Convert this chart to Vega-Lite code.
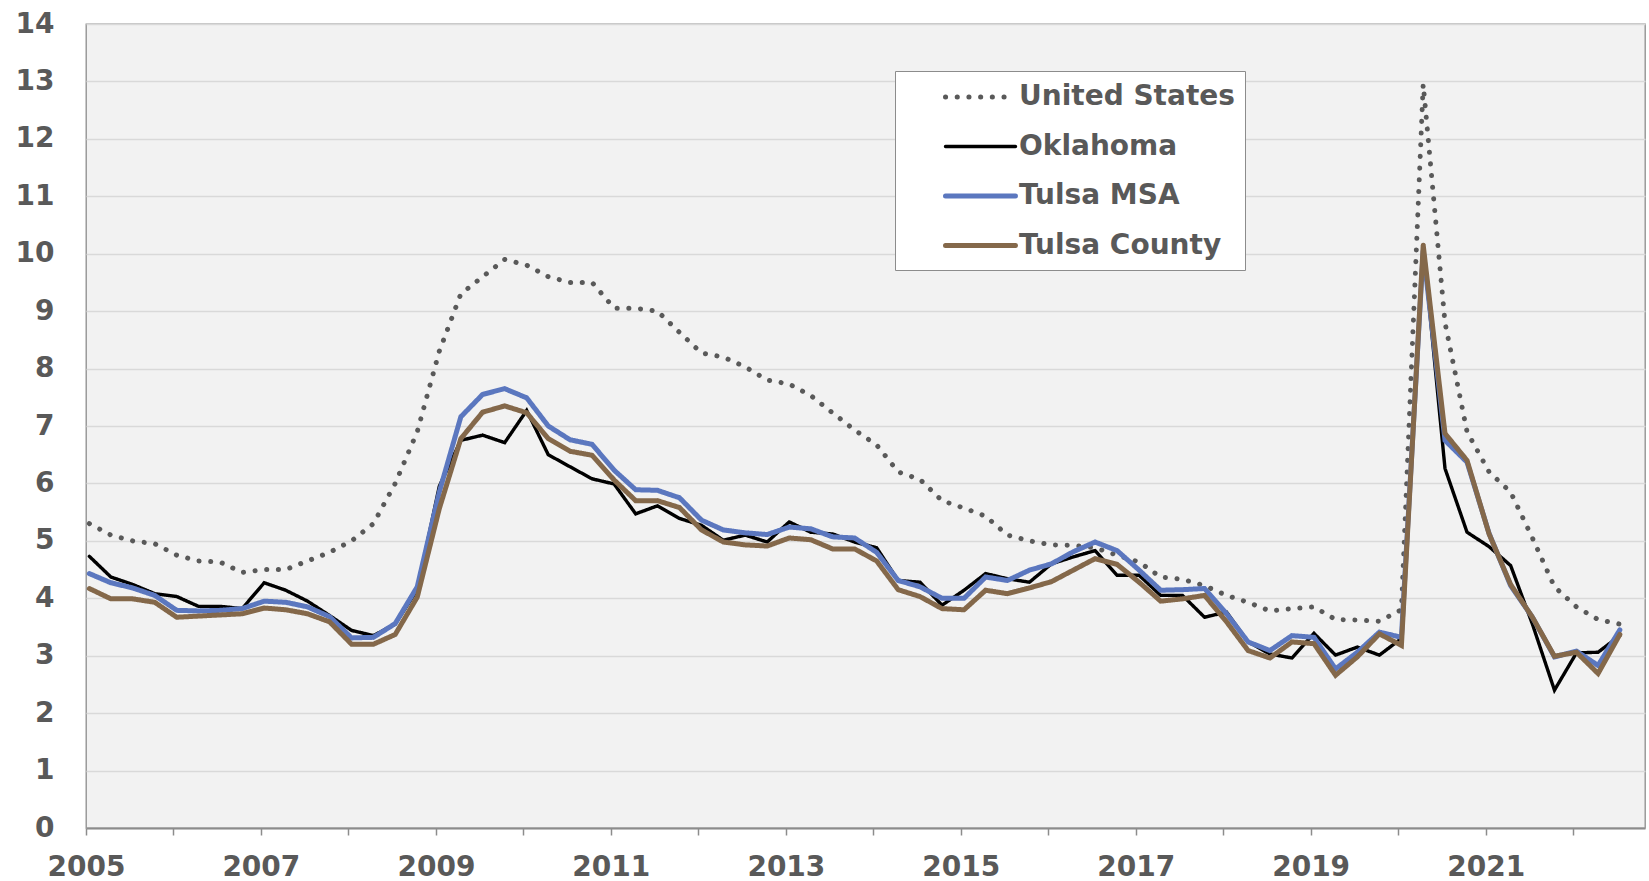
{
  "$schema": "https://vega.github.io/schema/vega-lite/v6.json",
  "width": 1559,
  "height": 804,
  "autosize": {"type": "none"},
  "padding": {"left": 86, "top": 24, "right": 4, "bottom": 53},
  "background": "white",
  "config": {
    "view": {"fill": "#f2f2f2", "stroke": "#8c8c8c", "strokeWidth": 1.3},
    "font": "DejaVu Sans",
    "legend": {
      "title": null,
      "orient": "none",
      "legendX": 809,
      "legendY": 47,
      "direction": "vertical",
      "fillColor": "white",
      "strokeColor": "#8c8c8c",
      "padding": 10,
      "symbolType": "stroke",
      "symbolSize": 4900,
      "symbolOffset": 38,
      "labelFont": "DejaVu Sans",
      "labelFontSize": 28,
      "labelFontWeight": "bold",
      "labelColor": "#595959",
      "labelOffset": 1,
      "labelLimit": 500,
      "rowPadding": 19.5
    }
  },
  "data": {
    "values": [
      {"d": "2005-01-15", "United States": 5.3, "Oklahoma": 4.73, "Tulsa MSA": 4.43, "Tulsa County": 4.17},
      {"d": "2005-04-15", "United States": 5.1, "Oklahoma": 4.37, "Tulsa MSA": 4.27, "Tulsa County": 3.99},
      {"d": "2005-07-15", "United States": 5.0, "Oklahoma": 4.24, "Tulsa MSA": 4.18, "Tulsa County": 3.99},
      {"d": "2005-10-15", "United States": 4.95, "Oklahoma": 4.08, "Tulsa MSA": 4.05, "Tulsa County": 3.93},
      {"d": "2006-01-15", "United States": 4.75, "Oklahoma": 4.03, "Tulsa MSA": 3.79, "Tulsa County": 3.67},
      {"d": "2006-04-15", "United States": 4.65, "Oklahoma": 3.86, "Tulsa MSA": 3.78, "Tulsa County": 3.69},
      {"d": "2006-07-15", "United States": 4.63, "Oklahoma": 3.86, "Tulsa MSA": 3.79, "Tulsa County": 3.71},
      {"d": "2006-10-15", "United States": 4.45, "Oklahoma": 3.82, "Tulsa MSA": 3.82, "Tulsa County": 3.73},
      {"d": "2007-01-15", "United States": 4.5, "Oklahoma": 4.27, "Tulsa MSA": 3.95, "Tulsa County": 3.83},
      {"d": "2007-04-15", "United States": 4.5, "Oklahoma": 4.14, "Tulsa MSA": 3.93, "Tulsa County": 3.8},
      {"d": "2007-07-15", "United States": 4.65, "Oklahoma": 3.95, "Tulsa MSA": 3.85, "Tulsa County": 3.73},
      {"d": "2007-10-15", "United States": 4.8, "Oklahoma": 3.7, "Tulsa MSA": 3.68, "Tulsa County": 3.59},
      {"d": "2008-01-15", "United States": 5.0, "Oklahoma": 3.44, "Tulsa MSA": 3.31, "Tulsa County": 3.2},
      {"d": "2008-04-15", "United States": 5.3, "Oklahoma": 3.35, "Tulsa MSA": 3.32, "Tulsa County": 3.2},
      {"d": "2008-07-15", "United States": 6.0, "Oklahoma": 3.55, "Tulsa MSA": 3.56, "Tulsa County": 3.37},
      {"d": "2008-10-15", "United States": 6.9, "Oklahoma": 4.15, "Tulsa MSA": 4.2, "Tulsa County": 4.02},
      {"d": "2009-01-15", "United States": 8.3, "Oklahoma": 5.95, "Tulsa MSA": 5.85, "Tulsa County": 5.56},
      {"d": "2009-04-15", "United States": 9.3, "Oklahoma": 6.75, "Tulsa MSA": 7.16, "Tulsa County": 6.78},
      {"d": "2009-07-15", "United States": 9.6, "Oklahoma": 6.84, "Tulsa MSA": 7.55, "Tulsa County": 7.24},
      {"d": "2009-10-15", "United States": 9.9, "Oklahoma": 6.71, "Tulsa MSA": 7.65, "Tulsa County": 7.35},
      {"d": "2010-01-15", "United States": 9.8, "Oklahoma": 7.27, "Tulsa MSA": 7.49, "Tulsa County": 7.23},
      {"d": "2010-04-15", "United States": 9.6, "Oklahoma": 6.5, "Tulsa MSA": 7.0, "Tulsa County": 6.78},
      {"d": "2010-07-15", "United States": 9.5, "Oklahoma": 6.29, "Tulsa MSA": 6.76, "Tulsa County": 6.56},
      {"d": "2010-10-15", "United States": 9.5, "Oklahoma": 6.08, "Tulsa MSA": 6.68, "Tulsa County": 6.49},
      {"d": "2011-01-15", "United States": 9.05, "Oklahoma": 5.99, "Tulsa MSA": 6.23, "Tulsa County": 6.06},
      {"d": "2011-04-15", "United States": 9.05, "Oklahoma": 5.47, "Tulsa MSA": 5.89, "Tulsa County": 5.7},
      {"d": "2011-07-15", "United States": 9.0, "Oklahoma": 5.61, "Tulsa MSA": 5.88, "Tulsa County": 5.7},
      {"d": "2011-10-15", "United States": 8.63, "Oklahoma": 5.39, "Tulsa MSA": 5.75, "Tulsa County": 5.58},
      {"d": "2012-01-15", "United States": 8.27, "Oklahoma": 5.27, "Tulsa MSA": 5.36, "Tulsa County": 5.19},
      {"d": "2012-04-15", "United States": 8.2, "Oklahoma": 5.01, "Tulsa MSA": 5.19, "Tulsa County": 4.98},
      {"d": "2012-07-15", "United States": 8.03, "Oklahoma": 5.1, "Tulsa MSA": 5.14, "Tulsa County": 4.93},
      {"d": "2012-10-15", "United States": 7.8, "Oklahoma": 4.98, "Tulsa MSA": 5.11, "Tulsa County": 4.91},
      {"d": "2013-01-15", "United States": 7.73, "Oklahoma": 5.33, "Tulsa MSA": 5.24, "Tulsa County": 5.05},
      {"d": "2013-04-15", "United States": 7.53, "Oklahoma": 5.15, "Tulsa MSA": 5.21, "Tulsa County": 5.02},
      {"d": "2013-07-15", "United States": 7.23, "Oklahoma": 5.12, "Tulsa MSA": 5.07, "Tulsa County": 4.86},
      {"d": "2013-10-15", "United States": 6.93, "Oklahoma": 4.98, "Tulsa MSA": 5.05, "Tulsa County": 4.86},
      {"d": "2014-01-15", "United States": 6.67, "Oklahoma": 4.88, "Tulsa MSA": 4.8, "Tulsa County": 4.65},
      {"d": "2014-04-15", "United States": 6.2, "Oklahoma": 4.31, "Tulsa MSA": 4.31, "Tulsa County": 4.15},
      {"d": "2014-07-15", "United States": 6.07, "Oklahoma": 4.28, "Tulsa MSA": 4.2, "Tulsa County": 4.03},
      {"d": "2014-10-15", "United States": 5.7, "Oklahoma": 3.88, "Tulsa MSA": 4.0, "Tulsa County": 3.82},
      {"d": "2015-01-15", "United States": 5.57, "Oklahoma": 4.14, "Tulsa MSA": 4.0, "Tulsa County": 3.8},
      {"d": "2015-04-15", "United States": 5.43, "Oklahoma": 4.43, "Tulsa MSA": 4.37, "Tulsa County": 4.14},
      {"d": "2015-07-15", "United States": 5.1, "Oklahoma": 4.34, "Tulsa MSA": 4.31, "Tulsa County": 4.08},
      {"d": "2015-10-15", "United States": 5.0, "Oklahoma": 4.28, "Tulsa MSA": 4.49, "Tulsa County": 4.18},
      {"d": "2016-01-15", "United States": 4.93, "Oklahoma": 4.6, "Tulsa MSA": 4.6, "Tulsa County": 4.29},
      {"d": "2016-04-15", "United States": 4.92, "Oklahoma": 4.72, "Tulsa MSA": 4.81, "Tulsa County": 4.49},
      {"d": "2016-07-15", "United States": 4.88, "Oklahoma": 4.83, "Tulsa MSA": 4.98, "Tulsa County": 4.69},
      {"d": "2016-10-15", "United States": 4.75, "Oklahoma": 4.4, "Tulsa MSA": 4.83, "Tulsa County": 4.59},
      {"d": "2017-01-15", "United States": 4.63, "Oklahoma": 4.4, "Tulsa MSA": 4.49, "Tulsa County": 4.28},
      {"d": "2017-04-15", "United States": 4.37, "Oklahoma": 4.05, "Tulsa MSA": 4.14, "Tulsa County": 3.95},
      {"d": "2017-07-15", "United States": 4.33, "Oklahoma": 4.05, "Tulsa MSA": 4.15, "Tulsa County": 3.99},
      {"d": "2017-10-15", "United States": 4.22, "Oklahoma": 3.67, "Tulsa MSA": 4.17, "Tulsa County": 4.05},
      {"d": "2018-01-15", "United States": 4.05, "Oklahoma": 3.76, "Tulsa MSA": 3.73, "Tulsa County": 3.59},
      {"d": "2018-04-15", "United States": 3.93, "Oklahoma": 3.24, "Tulsa MSA": 3.24, "Tulsa County": 3.09},
      {"d": "2018-07-15", "United States": 3.78, "Oklahoma": 3.03, "Tulsa MSA": 3.09, "Tulsa County": 2.96},
      {"d": "2018-10-15", "United States": 3.82, "Oklahoma": 2.96, "Tulsa MSA": 3.35, "Tulsa County": 3.24},
      {"d": "2019-01-15", "United States": 3.85, "Oklahoma": 3.39, "Tulsa MSA": 3.32, "Tulsa County": 3.21},
      {"d": "2019-04-15", "United States": 3.63, "Oklahoma": 3.01, "Tulsa MSA": 2.77, "Tulsa County": 2.66},
      {"d": "2019-07-15", "United States": 3.62, "Oklahoma": 3.15, "Tulsa MSA": 3.06, "Tulsa County": 2.98},
      {"d": "2019-10-15", "United States": 3.6, "Oklahoma": 3.01, "Tulsa MSA": 3.41, "Tulsa County": 3.38},
      {"d": "2020-01-15", "United States": 3.8, "Oklahoma": 3.3, "Tulsa MSA": 3.32, "Tulsa County": 3.18},
      {"d": "2020-04-15", "United States": 12.95, "Oklahoma": 10.15, "Tulsa MSA": 10.05, "Tulsa County": 10.15},
      {"d": "2020-07-15", "United States": 8.8, "Oklahoma": 6.26, "Tulsa MSA": 6.75, "Tulsa County": 6.87},
      {"d": "2020-10-15", "United States": 6.9, "Oklahoma": 5.15, "Tulsa MSA": 6.37, "Tulsa County": 6.4},
      {"d": "2021-01-15", "United States": 6.2, "Oklahoma": 4.9, "Tulsa MSA": 5.13, "Tulsa County": 5.12},
      {"d": "2021-04-15", "United States": 5.85, "Oklahoma": 4.57, "Tulsa MSA": 4.22, "Tulsa County": 4.24},
      {"d": "2021-07-15", "United States": 5.05, "Oklahoma": 3.55, "Tulsa MSA": 3.67, "Tulsa County": 3.67},
      {"d": "2021-10-15", "United States": 4.2, "Oklahoma": 2.4, "Tulsa MSA": 2.98, "Tulsa County": 2.99},
      {"d": "2022-01-15", "United States": 3.85, "Oklahoma": 3.05, "Tulsa MSA": 3.08, "Tulsa County": 3.06},
      {"d": "2022-04-15", "United States": 3.63, "Oklahoma": 3.06, "Tulsa MSA": 2.83, "Tulsa County": 2.69},
      {"d": "2022-07-15", "United States": 3.55, "Oklahoma": 3.35, "Tulsa MSA": 3.45, "Tulsa County": 3.37}
    ]
  },
  "transform": [
    {"fold": ["United States", "Oklahoma", "Tulsa MSA", "Tulsa County"], "as": ["series", "rate"]}
  ],
  "mark": {"type": "line", "strokeCap": "round"},
  "encoding": {
    "x": {
      "field": "d",
      "type": "temporal",
      "scale": {
        "type": "utc",
        "domain": [
          {"year": 2005, "month": 1, "date": 1, "utc": true},
          {"year": 2022, "month": 10, "date": 28, "utc": true}
        ]
      },
      "axis": {
        "title": null,
        "format": "%Y",
        "values": [
          {"year": 2005, "month": 1, "date": 1, "utc": true},
          {"year": 2006, "month": 1, "date": 1, "utc": true},
          {"year": 2007, "month": 1, "date": 1, "utc": true},
          {"year": 2008, "month": 1, "date": 1, "utc": true},
          {"year": 2009, "month": 1, "date": 1, "utc": true},
          {"year": 2010, "month": 1, "date": 1, "utc": true},
          {"year": 2011, "month": 1, "date": 1, "utc": true},
          {"year": 2012, "month": 1, "date": 1, "utc": true},
          {"year": 2013, "month": 1, "date": 1, "utc": true},
          {"year": 2014, "month": 1, "date": 1, "utc": true},
          {"year": 2015, "month": 1, "date": 1, "utc": true},
          {"year": 2016, "month": 1, "date": 1, "utc": true},
          {"year": 2017, "month": 1, "date": 1, "utc": true},
          {"year": 2018, "month": 1, "date": 1, "utc": true},
          {"year": 2019, "month": 1, "date": 1, "utc": true},
          {"year": 2020, "month": 1, "date": 1, "utc": true},
          {"year": 2021, "month": 1, "date": 1, "utc": true},
          {"year": 2022, "month": 1, "date": 1, "utc": true}
        ],
        "labelExpr": "utcyear(datum.value) % 2 == 1 ? datum.label : ''",
        "grid": false,
        "domainColor": "#8c8c8c",
        "domainWidth": 2,
        "tickColor": "#8c8c8c",
        "tickWidth": 1.5,
        "tickSize": 7,
        "labelFont": "DejaVu Sans",
        "labelFontSize": 28,
        "labelFontWeight": "bold",
        "labelColor": "#595959",
        "labelPadding": 18,
        "labelFlush": false,
        "labelOverlap": false,
        "labelBound": false,
        "encode": {
          "ticks": {
            "update": {
              "y": {"signal": "utcyear(datum.value) % 2 == 1 ? -9 : 0"},
              "y2": {"signal": "utcyear(datum.value) % 2 == 1 ? 9 : 7"}
            }
          }
        }
      }
    },
    "y": {
      "field": "rate",
      "type": "quantitative",
      "scale": {"domain": [0, 14], "nice": false},
      "axis": {
        "title": null,
        "values": [0, 1, 2, 3, 4, 5, 6, 7, 8, 9, 10, 11, 12, 13, 14],
        "domain": false,
        "ticks": false,
        "labelPadding": 32,
        "grid": true,
        "gridColor": "#d9d9d9",
        "gridWidth": 1.5,
        "labelFont": "DejaVu Sans",
        "labelFontSize": 28,
        "labelFontWeight": "bold",
        "labelColor": "#595959",
        "labelOverlap": false,
        "labelBound": false
      }
    },
    "color": {
      "field": "series",
      "type": "nominal",
      "scale": {
        "domain": ["United States", "Oklahoma", "Tulsa MSA", "Tulsa County"],
        "range": ["#595959", "#000000", "#5b77bf", "#84684a"]
      },
      "legend": {
        "encode": {
          "symbols": {"update": {"strokeCap": {"value": "round"}, "y": {"value": 16}}},
          "labels": {"update": {"y": {"value": 16}}}
        }
      }
    },
    "strokeDash": {
      "field": "series",
      "type": "nominal",
      "scale": {
        "domain": ["United States", "Oklahoma", "Tulsa MSA", "Tulsa County"],
        "range": [[0.1, 11.6], [1, 0], [1, 0], [1, 0]]
      },
      "legend": {
        "encode": {
          "symbols": {"update": {"strokeCap": {"value": "round"}, "y": {"value": 16}}},
          "labels": {"update": {"y": {"value": 16}}}
        }
      }
    },
    "strokeWidth": {
      "field": "series",
      "type": "nominal",
      "scale": {
        "type": "ordinal",
        "domain": ["United States", "Oklahoma", "Tulsa MSA", "Tulsa County"],
        "range": [5, 3.4, 5, 5]
      },
      "legend": {
        "encode": {
          "symbols": {"update": {"strokeCap": {"value": "round"}, "y": {"value": 16}}},
          "labels": {"update": {"y": {"value": 16}}}
        }
      }
    }
  }
}
